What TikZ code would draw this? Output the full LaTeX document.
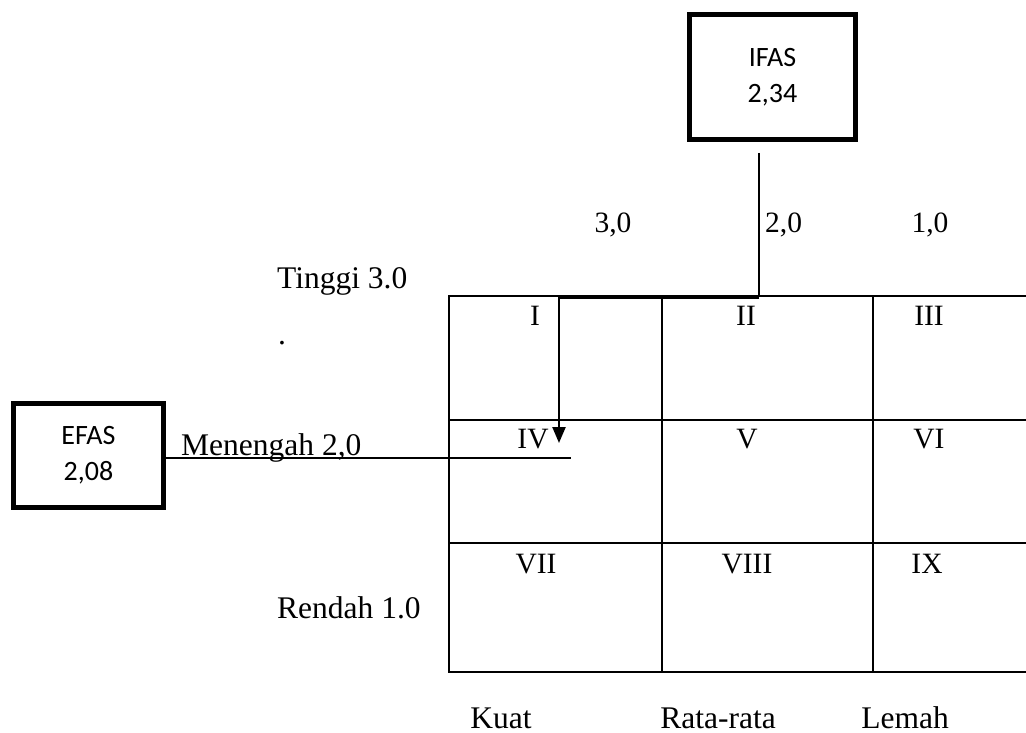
\documentclass[tikz,border=0pt]{standalone}
\usepackage{fontspec}
\setmainfont{Liberation Serif}
\newfontfamily\boxfont{Carlito}
\usetikzlibrary{arrows.meta}
\begin{document}
\begin{tikzpicture}[x=1pt,y=-1pt,
  gridline/.style={line width=2.3pt},
  fatbox/.style={draw,line width=5pt,inner sep=0pt,align=center,
    font=\boxfont\fontsize{28}{36}\selectfont},
  word/.style={inner sep=0pt,font=\fontsize{31.5}{36}\selectfont},
  numl/.style={inner sep=0pt,anchor=base,font=\fontsize{29.5}{34}\selectfont},
  conn/.style={line width=2.3pt},
  tipconn/.style={line width=2.3pt,-{Triangle[width=13pt,length=16pt]}}]
\useasboundingbox (0,0) rectangle (1026,733);
% boxes
\node[fatbox,minimum width=166pt,minimum height=125pt] (ifas) at (772.5,77) {IFAS\\2,34};
\node[fatbox,minimum width=150pt,minimum height=104pt] (efas) at (88.5,455.5) {EFAS\\2,08};
% grid
\draw[gridline] (1026,296) -- (449,296) -- (449,672) -- (1026,672);
\draw[gridline] (449,420) -- (1026,420);
\draw[gridline] (449,543) -- (1026,543);
\draw[gridline] (662,296) -- (662,672);
\draw[gridline] (873,296) -- (873,672);
% cell labels
\node[numl] (c1) at (535,325.5) {I};
\node[numl] (c2) at (746,325.5) {II};
\node[numl] (c3) at (929,325.5) {III};
\node[numl] (c4) at (533,448) {IV};
\node[numl] (c5) at (747,448) {V};
\node[numl] (c6) at (929,448) {VI};
\node[numl] (c7) at (536,573) {VII};
\node[numl] (c8) at (747,573) {VIII};
\node[numl] (c9) at (927,573) {IX};
% top scale
\node[numl] (s3) at (613,233) {3,0};
\node[numl,anchor=base west] (s2) at (765,233) {2,0};
\node[numl] (s1) at (930,233) {1,0};
% left labels
\node[word,anchor=base west] (tinggi) at (277,288) {Tinggi 3.0};
\node[word,anchor=base west] (dot) at (278,344) {.};
\node[word,anchor=base west] (menengah) at (181,455) {Menengah 2,0};
\node[word,anchor=base west] (rendah) at (277,618) {Rendah 1.0};
% bottom labels
\node[word,anchor=base] (kuat) at (501,728) {Kuat};
\node[word,anchor=base] (rata) at (718,728) {Rata-rata};
\node[word,anchor=base] (lemah) at (905,728) {Lemah};
% connectors
\coordinate (ifasfoot) at (759,153);
\coordinate (turn) at (759,297);
\coordinate (corner) at (559,297);
\coordinate (tip) at (559,443);
\coordinate (efasend) at (571,458);
\draw[conn] (ifasfoot) -- (turn);
\draw[line width=4.5pt] (turn) -- (corner);
\draw[tipconn] (corner) -- (tip);
\draw[conn] (efas.east |- efasend) -- (efasend);
\end{tikzpicture}
\end{document}
